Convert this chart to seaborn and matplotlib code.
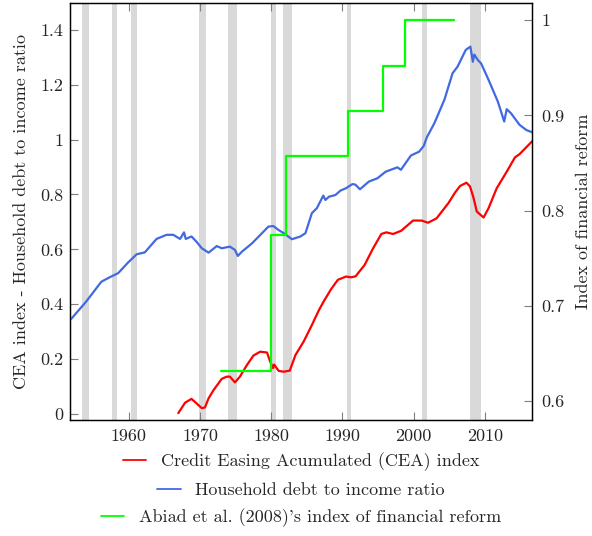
import matplotlib
matplotlib.use("Agg")
import matplotlib.pyplot as plt
from matplotlib.ticker import FuncFormatter, FixedLocator
from matplotlib.lines import Line2D
import seaborn as sns
import pandas as pd

# Household debt to income ratio (left axis)
debt_years = [1951.9, 1954.0, 1956.15, 1957.3, 1958.5, 1959.9, 1961.1, 1962.25,
              1963.9, 1965.3, 1966.25, 1967.2, 1967.75, 1968.0, 1968.8, 1969.5,
              1970.25, 1971.2, 1972.35, 1973.05, 1974.2, 1974.9, 1975.3, 1975.9,
              1977.3, 1978.7, 1979.6, 1980.3, 1981.0, 1981.75, 1982.9, 1984.1,
              1984.8, 1985.7, 1986.4, 1987.3, 1987.6, 1988.1, 1989.0, 1989.7,
              1990.5, 1991.4, 1991.8, 1992.45, 1993.7, 1994.9, 1996.05, 1997.7,
              1998.2, 1999.6, 2000.75, 2001.4, 2001.85, 2002.9, 2004.3, 2005.45,
              2006.15, 2007.3, 2007.95, 2008.3, 2008.5, 2009.0, 2009.45, 2010.4,
              2011.8, 2012.7, 2013.05, 2013.65, 2014.85, 2015.8, 2016.7]
debt_ratio = [0.346, 0.409, 0.482, 0.498, 0.513, 0.552, 0.582, 0.589,
              0.638, 0.653, 0.653, 0.638, 0.662, 0.638, 0.647, 0.628,
              0.604, 0.588, 0.612, 0.604, 0.610, 0.598, 0.576, 0.592,
              0.622, 0.659, 0.683, 0.685, 0.671, 0.659, 0.637, 0.647,
              0.659, 0.732, 0.750, 0.796, 0.780, 0.792, 0.798, 0.814,
              0.823, 0.838, 0.836, 0.819, 0.847, 0.859, 0.883, 0.899,
              0.890, 0.942, 0.956, 0.977, 1.009, 1.060, 1.145, 1.242,
              1.266, 1.327, 1.339, 1.284, 1.310, 1.290, 1.278, 1.224,
              1.139, 1.066, 1.111, 1.096, 1.054, 1.035, 1.026]

# Credit Easing Acumulated (CEA) index (left axis)
cea_years = [1966.95, 1967.9, 1968.8, 1969.5, 1970.25, 1970.7, 1971.2, 1971.9,
             1973.05, 1973.75, 1974.2, 1974.9, 1975.6, 1976.6, 1977.5, 1978.45,
             1979.4, 1979.85, 1980.25, 1980.4, 1981.05, 1981.75, 1982.6, 1983.4,
             1984.55, 1985.7, 1986.7, 1987.4, 1988.4, 1989.35, 1990.5, 1991.2,
             1991.85, 1993.1, 1994.3, 1995.45, 1996.15, 1997.1, 1998.25, 1999.9,
             2001.1, 2002.0, 2003.2, 2004.85, 2005.8, 2006.5, 2007.4, 2007.9,
             2008.35, 2008.85, 2009.8, 2010.5, 2011.65, 2013.05, 2014.2, 2014.85,
             2016.7]
cea_index = [0.003, 0.041, 0.055, 0.039, 0.021, 0.024, 0.057, 0.087,
             0.128, 0.136, 0.136, 0.115, 0.136, 0.179, 0.213, 0.227,
             0.224, 0.191, 0.167, 0.180, 0.157, 0.154, 0.158, 0.215,
             0.264, 0.324, 0.379, 0.412, 0.455, 0.489, 0.501, 0.498,
             0.502, 0.543, 0.604, 0.656, 0.662, 0.656, 0.668, 0.705,
             0.705, 0.697, 0.713, 0.768, 0.807, 0.831, 0.843, 0.829,
             0.792, 0.738, 0.716, 0.750, 0.823, 0.883, 0.935, 0.947,
             0.996]

# Abiad et al. (2008) index of financial reform (right axis), step changes
reform_years = [1972.9, 1980.0, 1982.0, 1990.75, 1995.75, 1998.8, 2005.7]
reform_index = [0.631, 0.774, 0.857, 0.905, 0.952, 1.0, 1.0]

# NBER recessions
recessions = [(1953.5, 1954.4), (1957.6, 1958.3), (1960.3, 1961.1),
              (1969.9, 1970.9), (1973.9, 1975.2), (1980.0, 1980.6),
              (1981.6, 1982.9), (1990.6, 1991.2), (2001.2, 2001.9),
              (2007.9, 2009.5)]

left_ticks = [0, 0.2, 0.4, 0.6, 0.8, 1.0, 1.2, 1.4]
right_ticks = [0.6, 0.7, 0.8, 0.9, 1.0]
x_ticks = [1960, 1970, 1980, 1990, 2000, 2010]

labels = ["Credit Easing Acumulated (CEA) index",
          "Household debt to income ratio",
          "Abiad et al. (2008)'s index of financial reform"]
colors = ["#ff0000", "#4169e1", "#00ff00"]

sns.set_style("white")
plt.rcParams["font.family"] = ["cmr10", "DejaVu Serif"]
plt.rcParams["axes.formatter.use_mathtext"] = True
plt.rcParams["mathtext.fontset"] = "cm"
fs = 13

fig = plt.figure(figsize=(5.92, 5.36), dpi=100)
ax = fig.add_axes([70 / 592, 1 - 420 / 536, 462 / 592, 417 / 536])

for a, b in recessions:
    ax.axvspan(a, b, color="#d9d9d9", lw=0, zorder=0)

debt_df = pd.DataFrame({"year": debt_years, "value": debt_ratio})
cea_df = pd.DataFrame({"year": cea_years, "value": cea_index})
reform_df = pd.DataFrame({"year": reform_years, "value": reform_index})

sns.lineplot(data=debt_df, x="year", y="value", ax=ax, color=colors[1],
             lw=1.6, sort=False, zorder=3)
sns.lineplot(data=cea_df, x="year", y="value", ax=ax, color=colors[0],
             lw=1.6, sort=False, zorder=3)

ax2 = ax.twinx()
sns.lineplot(data=reform_df, x="year", y="value", ax=ax2, color=colors[2],
             lw=1.6, sort=False, drawstyle="steps-post", zorder=3)

ax.set_xlim(1951.75, 2016.6)
ax.set_ylim(-0.022, 1.498)
ax2.set_ylim(0.58, 1.018)

ax.xaxis.set_major_locator(FixedLocator(x_ticks))
ax.yaxis.set_major_locator(FixedLocator(left_ticks))
ax2.yaxis.set_major_locator(FixedLocator(right_ticks))
fmt = FuncFormatter(lambda v, p: "%g" % round(v, 2))
ax.xaxis.set_major_formatter(FuncFormatter(lambda v, p: "%d" % v))
ax.yaxis.set_major_formatter(fmt)
ax2.yaxis.set_major_formatter(fmt)

ax.tick_params(axis="x", direction="in", length=6, width=0.8, color="#7f7f7f",
               top=True, bottom=True, labelsize=fs, pad=6)
ax.tick_params(axis="y", direction="in", length=6, width=0.8, color="#7f7f7f",
               left=True, right=False, labelsize=fs, pad=5)
ax2.tick_params(axis="y", direction="in", length=6, width=0.8, color="#7f7f7f",
                right=True, left=False, labelsize=fs, pad=7)

for a in (ax, ax2):
    for s in a.spines.values():
        s.set_color("black")
        s.set_linewidth(0.9)
        s.set_visible(True)

ax.set_xlabel("")
ax.set_ylabel("CEA index - Household debt to income ratio", fontsize=fs, labelpad=8)
ax2.set_ylabel("Index of financial reform", fontsize=fs, labelpad=8)

# one centred legend row per series
rows_y = [1 - 462 / 536, 1 - 490 / 536, 1 - 518 / 536]
for lab, col, yy in zip(labels, colors, rows_y):
    h = Line2D([], [], color=col, lw=1.3)
    leg = fig.legend(handles=[h], labels=[lab], loc="center",
                     bbox_to_anchor=(301 / 592, yy), frameon=False,
                     fontsize=fs, handlelength=1.3, handletextpad=0.8,
                     borderpad=0, borderaxespad=0)

fig.savefig("out.png", dpi=100)
